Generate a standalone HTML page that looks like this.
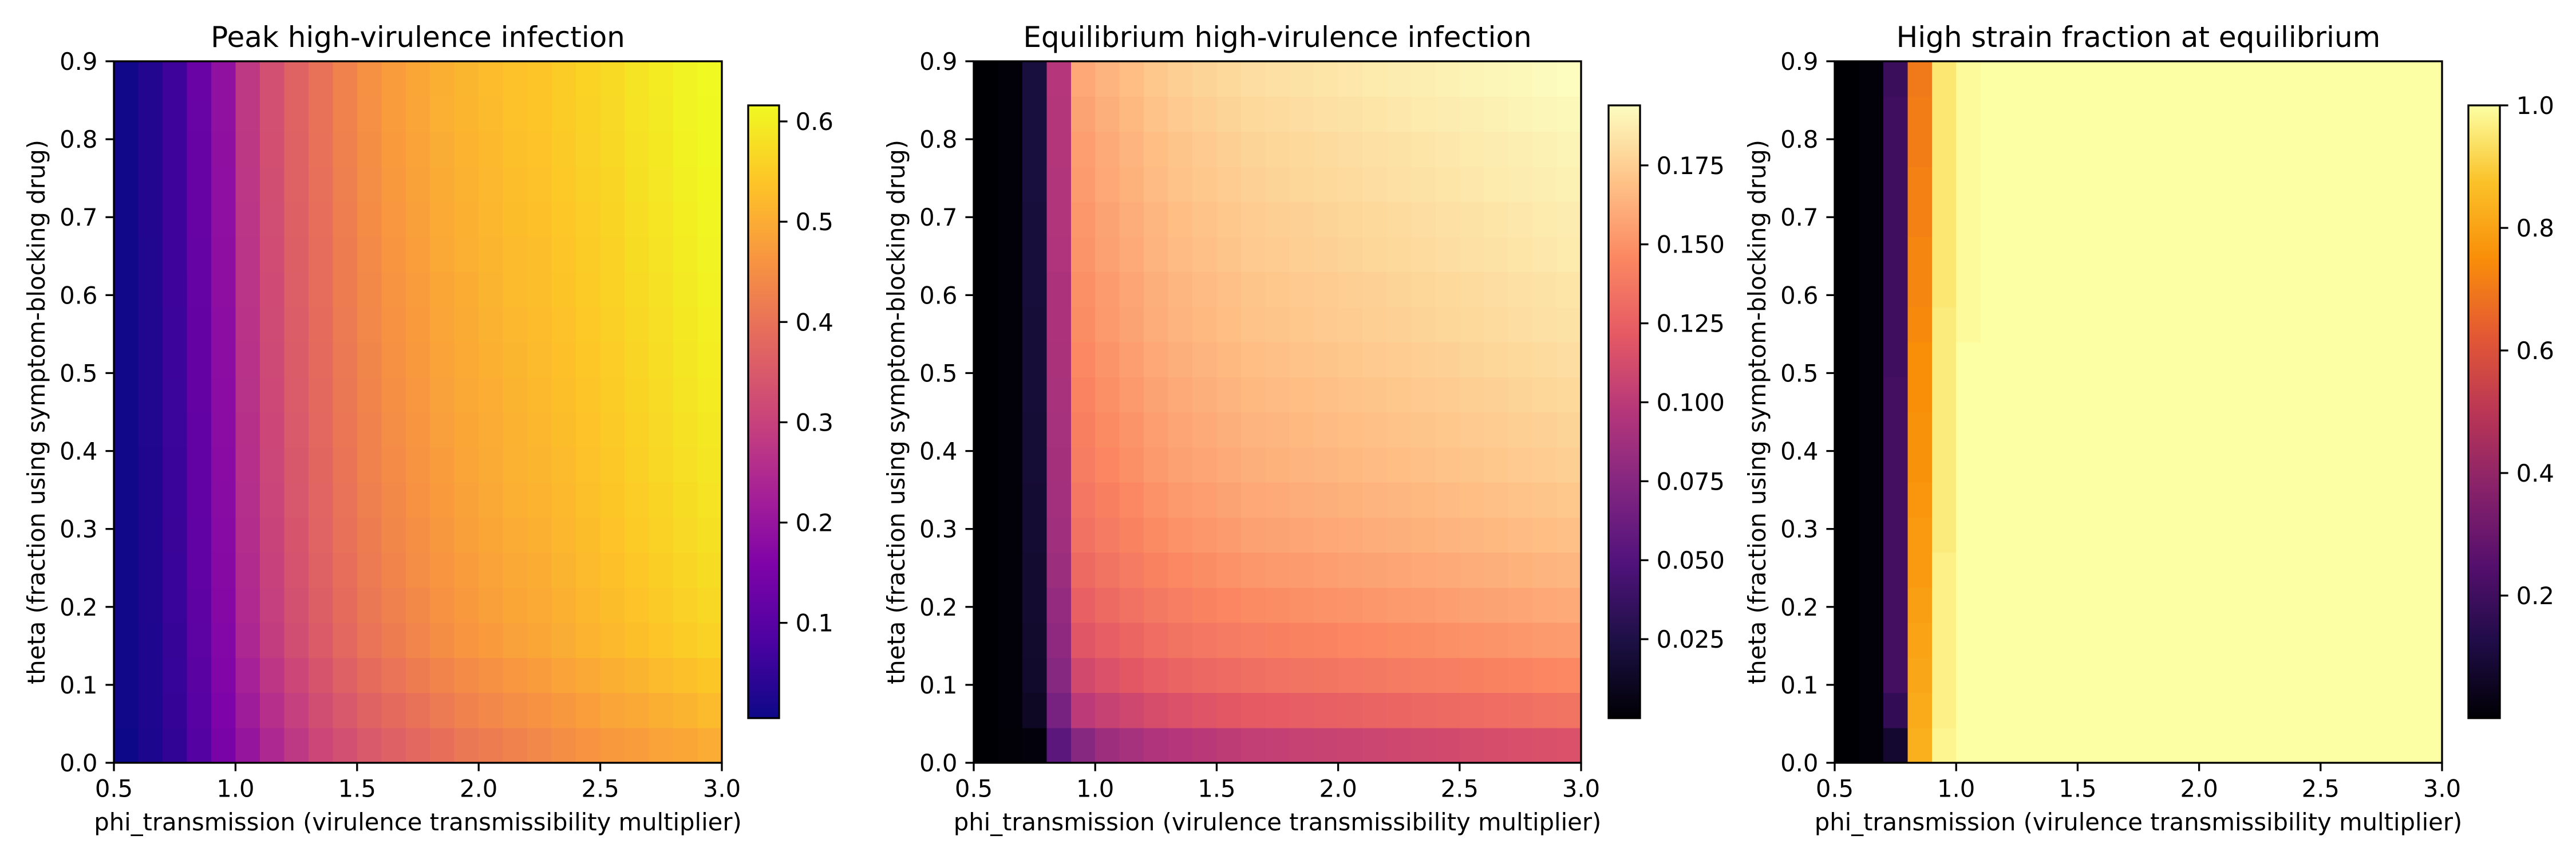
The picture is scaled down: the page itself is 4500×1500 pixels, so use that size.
<!DOCTYPE html>
<html><head><meta charset="utf-8"><style>
html,body{margin:0;padding:0;background:#fff}
svg{display:block}
text{font-family:"DejaVu Sans","Liberation Sans",sans-serif;fill:#000}
</style></head><body>
<svg id="fig" width="4500" height="1500" viewBox="0 0 4500 1500" xmlns="http://www.w3.org/2000/svg"></svg>
<script>
// ---------- data ----------
const phiEdges = [0.5,0.6,0.7,0.8,0.9,1.0,1.1,1.2,1.3,1.4,1.5,1.6,1.7,1.8,1.9,2.0,2.1,2.2,2.3,2.4,2.5,2.6,2.7,2.8,2.9,3.0];
const thetaMax = 0.9;
const xTicks = [0.5,1.0,1.5,2.0,2.5,3.0];
const xTickLabels = ["0.5","1.0","1.5","2.0","2.5","3.0"];
const yTicks = [0,0.1,0.2,0.3,0.4,0.5,0.6,0.7,0.8,0.9];
const yTickLabels = ["0.0","0.1","0.2","0.3","0.4","0.5","0.6","0.7","0.8","0.9"];
const titles = ["Peak high-virulence infection","Equilibrium high-virulence infection","High strain fraction at equilibrium"];
const cbTicks1 = [0.1,0.2,0.3,0.4,0.5,0.6];
const cbLabels1 = ["0.1","0.2","0.3","0.4","0.5","0.6"];
const cbTicks2 = [0.025,0.05,0.075,0.1,0.125,0.15,0.175];
const cbLabels2 = ["0.025","0.050","0.075","0.100","0.125","0.150","0.175"];
const cbTicks3 = [0.2,0.4,0.6,0.8,1.0];
const cbLabels3 = ["0.2","0.4","0.6","0.8","1.0"];

// rows from theta=0 (bottom) upward, 25 columns each
const peak = [
[.005,.025,.05,.095,.15,.20,.245,.28,.31,.33,.35,.365,.38,.395,.41,.42,.43,.44,.45,.46,.47,.475,.485,.49,.50],
[.01,.026,.053,.10,.158,.214,.26,.296,.326,.348,.369,.385,.40,.415,.429,.439,.449,.458,.468,.478,.488,.495,.505,.512,.522],
[.01,.027,.055,.105,.163,.228,.275,.311,.341,.365,.386,.403,.418,.433,.446,.456,.466,.475,.485,.495,.505,.513,.523,.531,.541],
[.01,.027,.056,.108,.167,.242,.289,.326,.356,.381,.403,.42,.435,.45,.463,.473,.483,.491,.501,.511,.521,.53,.54,.549,.559],
[.01,.028,.058,.11,.17,.247,.295,.332,.362,.387,.41,.427,.442,.457,.47,.48,.49,.497,.507,.517,.527,.537,.547,.557,.567],
[.01,.028,.058,.112,.172,.251,.299,.337,.367,.392,.415,.433,.448,.463,.475,.485,.495,.502,.512,.522,.532,.543,.553,.564,.574],
[.01,.028,.059,.113,.174,.255,.303,.341,.371,.397,.42,.438,.453,.468,.48,.49,.50,.507,.517,.527,.537,.548,.558,.569,.579],
[.01,.028,.06,.115,.176,.258,.306,.344,.374,.401,.424,.442,.457,.472,.484,.494,.504,.511,.521,.531,.541,.552,.562,.574,.584],
[.01,.028,.06,.116,.178,.26,.309,.347,.377,.404,.428,.446,.461,.476,.488,.498,.508,.514,.524,.534,.544,.556,.566,.578,.588],
[.01,.029,.061,.117,.179,.262,.311,.35,.38,.407,.43,.449,.464,.479,.49,.50,.51,.517,.527,.537,.547,.559,.569,.581,.591],
[.01,.029,.061,.118,.18,.265,.313,.352,.382,.41,.433,.452,.467,.482,.493,.503,.513,.52,.53,.54,.55,.562,.572,.585,.595],
[.01,.029,.062,.118,.181,.267,.316,.354,.384,.412,.436,.455,.47,.485,.496,.506,.516,.522,.532,.542,.552,.565,.575,.588,.598],
[.01,.029,.062,.119,.182,.269,.318,.357,.387,.415,.439,.458,.473,.488,.499,.509,.519,.525,.535,.545,.555,.568,.578,.591,.601],
[.01,.029,.063,.12,.184,.271,.32,.359,.389,.418,.442,.461,.476,.491,.502,.512,.522,.528,.538,.548,.558,.571,.581,.594,.604],
[.01,.029,.063,.121,.184,.272,.322,.361,.391,.419,.444,.463,.478,.493,.504,.514,.524,.529,.539,.549,.559,.573,.583,.597,.607],
[.01,.03,.063,.122,.186,.274,.324,.363,.393,.422,.447,.466,.481,.496,.507,.517,.527,.532,.542,.552,.562,.576,.586,.600,.610],
[.01,.03,.064,.123,.187,.276,.326,.366,.396,.425,.449,.469,.484,.499,.509,.519,.529,.535,.545,.555,.565,.579,.589,.603,.612],
[.01,.03,.064,.123,.188,.278,.328,.367,.397,.427,.451,.471,.486,.501,.511,.521,.531,.537,.547,.557,.567,.581,.591,.605,.614],
[.01,.03,.065,.124,.189,.28,.33,.37,.40,.429,.454,.474,.489,.504,.514,.524,.534,.539,.549,.559,.569,.584,.594,.607,.615],
[.01,.03,.065,.125,.19,.28,.33,.37,.40,.43,.455,.475,.49,.505,.515,.525,.535,.54,.55,.56,.57,.585,.595,.608,.616]
];
const equil = [
[0,.001,.003,.055,.075,.086,.090,.094,.097,.099,.101,.103,.104,.105,.106,.107,.108,.109,.110,.111,.112,.113,.114,.115,.116],
[0,.002,.012,.068,.100,.105,.109,.113,.116,.118,.120,.122,.123,.124,.125,.126,.127,.128,.129,.130,.131,.132,.133,.134,.135],
[0,.002,.015,.075,.111,.116,.120,.124,.127,.129,.131,.133,.134,.135,.136,.137,.138,.139,.140,.141,.142,.143,.144,.145,.146],
[0,.002,.016,.079,.119,.124,.128,.132,.135,.137,.139,.141,.142,.143,.144,.145,.146,.147,.148,.149,.150,.151,.152,.153,.154],
[0,.002,.017,.082,.125,.130,.134,.138,.141,.143,.145,.147,.148,.149,.150,.151,.152,.153,.154,.155,.156,.157,.158,.159,.160],
[0,.002,.017,.085,.130,.135,.139,.143,.146,.148,.150,.152,.153,.154,.155,.156,.157,.158,.159,.160,.161,.162,.163,.164,.165],
[0,.002,.018,.087,.134,.139,.143,.147,.150,.152,.154,.156,.157,.158,.159,.160,.161,.162,.163,.164,.165,.166,.167,.168,.169],
[0,.002,.018,.088,.137,.142,.146,.150,.153,.155,.157,.159,.160,.161,.162,.163,.164,.165,.166,.167,.168,.169,.170,.171,.172],
[0,.002,.019,.089,.140,.145,.149,.153,.156,.158,.160,.162,.163,.164,.165,.166,.167,.168,.169,.170,.171,.172,.173,.174,.175],
[0,.002,.019,.090,.142,.147,.151,.155,.158,.160,.162,.164,.165,.166,.167,.168,.169,.170,.171,.172,.173,.174,.175,.176,.177],
[0,.002,.020,.091,.144,.149,.153,.157,.160,.162,.164,.166,.167,.168,.169,.170,.171,.172,.173,.174,.175,.176,.177,.178,.179],
[0,.002,.020,.092,.146,.151,.155,.159,.162,.164,.166,.168,.169,.170,.171,.172,.173,.174,.175,.176,.177,.178,.179,.180,.181],
[0,.002,.020,.093,.148,.153,.157,.161,.164,.166,.168,.170,.171,.172,.173,.174,.175,.176,.177,.178,.179,.180,.181,.182,.183],
[0,.002,.021,.093,.149,.154,.158,.162,.165,.167,.169,.171,.172,.173,.174,.175,.176,.177,.178,.179,.180,.181,.182,.183,.184],
[0,.002,.021,.094,.151,.156,.160,.164,.167,.169,.171,.173,.174,.175,.176,.177,.178,.179,.180,.181,.182,.183,.184,.185,.186],
[0,.002,.021,.095,.152,.157,.161,.165,.168,.170,.172,.174,.175,.176,.177,.178,.179,.180,.181,.182,.183,.184,.185,.186,.187],
[0,.002,.022,.095,.154,.159,.163,.167,.170,.172,.174,.176,.177,.178,.179,.180,.181,.182,.183,.184,.185,.186,.187,.188,.189],
[0,.002,.022,.096,.155,.160,.164,.168,.171,.173,.175,.177,.178,.179,.180,.181,.182,.183,.184,.185,.186,.187,.188,.189,.190],
[0,.002,.022,.096,.157,.162,.166,.170,.173,.175,.177,.179,.180,.181,.182,.183,.184,.185,.186,.187,.188,.189,.190,.191,.192],
[0,.002,.022,.097,.159,.164,.168,.172,.175,.177,.179,.181,.182,.183,.184,.185,.186,.187,.188,.189,.190,.191,.192,.193,.194]
];
const frac = [
[0,.01,.08,.83,.98,1,1,1,1,1,1,1,1,1,1,1,1,1,1,1,1,1,1,1,1],
[0,.01,.17,.82,.97,1,1,1,1,1,1,1,1,1,1,1,1,1,1,1,1,1,1,1,1],
[0,.01,.21,.81,.97,1,1,1,1,1,1,1,1,1,1,1,1,1,1,1,1,1,1,1,1],
[0,.01,.21,.80,.97,1,1,1,1,1,1,1,1,1,1,1,1,1,1,1,1,1,1,1,1],
[0,.01,.21,.79,.97,1,1,1,1,1,1,1,1,1,1,1,1,1,1,1,1,1,1,1,1],
[0,.01,.21,.78,.97,1,1,1,1,1,1,1,1,1,1,1,1,1,1,1,1,1,1,1,1],
[0,.01,.21,.78,.96,1,1,1,1,1,1,1,1,1,1,1,1,1,1,1,1,1,1,1,1],
[0,.01,.21,.77,.96,1,1,1,1,1,1,1,1,1,1,1,1,1,1,1,1,1,1,1,1],
[0,.01,.21,.76,.96,1,1,1,1,1,1,1,1,1,1,1,1,1,1,1,1,1,1,1,1],
[0,.01,.21,.76,.96,1,1,1,1,1,1,1,1,1,1,1,1,1,1,1,1,1,1,1,1],
[0,.01,.21,.75,.96,1,1,1,1,1,1,1,1,1,1,1,1,1,1,1,1,1,1,1,1],
[0,.01,.20,.75,.96,1,1,1,1,1,1,1,1,1,1,1,1,1,1,1,1,1,1,1,1],
[0,.01,.20,.74,.96,.99,1,1,1,1,1,1,1,1,1,1,1,1,1,1,1,1,1,1,1],
[0,.01,.20,.73,.95,.99,1,1,1,1,1,1,1,1,1,1,1,1,1,1,1,1,1,1,1],
[0,.01,.20,.73,.95,.99,1,1,1,1,1,1,1,1,1,1,1,1,1,1,1,1,1,1,1],
[0,.01,.20,.72,.95,.99,1,1,1,1,1,1,1,1,1,1,1,1,1,1,1,1,1,1,1],
[0,.01,.20,.72,.95,.99,1,1,1,1,1,1,1,1,1,1,1,1,1,1,1,1,1,1,1],
[0,.01,.20,.71,.95,.99,1,1,1,1,1,1,1,1,1,1,1,1,1,1,1,1,1,1,1],
[0,.01,.20,.71,.95,.99,1,1,1,1,1,1,1,1,1,1,1,1,1,1,1,1,1,1,1],
[0,.01,.19,.70,.95,.99,1,1,1,1,1,1,1,1,1,1,1,1,1,1,1,1,1,1,1]
];

// ---------- colormaps ----------
const PLASMA=["#0d0887","#4c02a1","#7e03a8","#a92395","#cc4778","#e56b5d","#f89540","#fdc527","#f0f921"];
const MAGMA=["#000004","#1c1044","#4f127b","#812581","#b5367a","#e55964","#fb8761","#fec287","#fcfdbf"];
const INFERNO=["#000004","#1f0c48","#550f6d","#88226a","#ba3655","#e35933","#f98e09","#fac228","#fcffa4"];
function hex(h){return [parseInt(h.substr(1,2),16),parseInt(h.substr(3,2),16),parseInt(h.substr(5,2),16)];}
function cmap(stops,t){
  t=Math.max(0,Math.min(1,t));
  const n=stops.length-1, f=t*n, i=Math.min(n-1,Math.floor(f)), u=f-i;
  const a=hex(stops[i]), b=hex(stops[i+1]);
  return "rgb("+a.map((v,k)=>Math.round(v+(b[k]-v)*u)).join(",")+")";
}

const NS="http://www.w3.org/2000/svg";
const svg=document.getElementById("fig");
function el(tag,attrs,parent){const e=document.createElementNS(NS,tag);for(const k in attrs)e.setAttribute(k,attrs[k]);(parent||svg).appendChild(e);return e;}

const panels=[
 {data:peak,stops:PLASMA,ax0:199,ax1:1261,cb0:1307,cb1:1361,ticks:cbTicks1,labels:cbLabels1,name:"peak"},
 {data:equil,stops:MAGMA,ax0:1701,ax1:2762,cb0:2810,cb1:2865,ticks:cbTicks2,labels:cbLabels2,name:"equilibrium"},
 {data:frac,stops:INFERNO,ax0:3205,ax1:4266,cb0:4312,cb1:4367,ticks:cbTicks3,labels:cbLabels3,name:"high-fraction"}
];
const AY0=107, AY1=1332, CBY0=184, CBY1=1254;
const TL=14.6, LW=3.3, FS=41.7;

panels.forEach((p,pi)=>{
  const g=el("g",{});
  
  
  const xS=v=>p.ax0+(v-0.5)/(3.0-0.5)*(p.ax1-p.ax0);
  const yS=v=>AY1-(v/thetaMax)*(AY1-AY0);
  const rows=p.data.length;
  let vmin=Infinity,vmax=-Infinity;
  p.data.forEach(r=>r.forEach(v=>{vmin=Math.min(vmin,v);vmax=Math.max(vmax,v);}));
  const hm=el("g",{"shape-rendering":"crispEdges"},g);
  
  
  p.data.forEach((row,ri)=>{
    const y0=yS(ri*thetaMax/rows), y1=yS((ri+1)*thetaMax/rows);
    row.forEach((v,ci)=>{
      const x0=xS(phiEdges[ci]), x1=xS(phiEdges[ci+1]);
      const r=el("rect",{x:x0,y:y1,width:x1-x0+0.6,height:y0-y1+0.6,fill:cmap(p.stops,(v-vmin)/(vmax-vmin))},hm);
      
      
    });
  });
  const fr=el("rect",{x:p.ax0,y:AY0,width:p.ax1-p.ax0,height:AY1-AY0,fill:"none",stroke:"#000","stroke-width":LW},g);
  
  
  xTicks.forEach((t,i)=>{
    const x=xS(t);
    el("line",{x1:x,x2:x,y1:AY1,y2:AY1+TL,stroke:"#000","stroke-width":LW},g);
    const tx=el("text",{x:x,y:AY1+TL+14+31,"font-size":FS,"text-anchor":"middle"},g);
    tx.textContent=xTickLabels[i];
    
    
  });
  yTicks.forEach((t,i)=>{
    const y=yS(t);
    el("line",{x1:p.ax0-TL,x2:p.ax0,y1:y,y2:y,stroke:"#000","stroke-width":LW},g);
    const ty=el("text",{x:p.ax0-TL-14,y:y+15,"font-size":FS,"text-anchor":"end"},g);
    ty.textContent=yTickLabels[i];
    
    
  });
  const xl=el("text",{x:(p.ax0+p.ax1)/2,y:1450,"font-size":FS,"text-anchor":"middle"},g);
  xl.textContent="phi_transmission (virulence transmissibility multiplier)";
  
  
  const yl=el("text",{x:0,y:0,"font-size":FS,"text-anchor":"middle",transform:`translate(${p.ax0-121},${(AY0+AY1)/2}) rotate(-90)`},g);
  yl.textContent="theta (fraction using symptom-blocking drug)";
  
  
  const tt=el("text",{x:(p.ax0+p.ax1)/2,y:82,"font-size":50,"text-anchor":"middle"},g);
  tt.textContent=titles[pi];
  
  
  const gid="grad"+pi;
  const defs=el("defs",{},g);
  const lg=el("linearGradient",{id:gid,x1:0,y1:1,x2:0,y2:0},defs);
  for(let k=0;k<=32;k++){el("stop",{offset:k/32,"stop-color":cmap(p.stops,k/32)},lg);}
  const cb=el("rect",{x:p.cb0,y:CBY0,width:p.cb1-p.cb0,height:CBY1-CBY0,fill:`url(#${gid})`,stroke:"#000","stroke-width":LW},g);
  
  
  const cS=v=>CBY1-(v-vmin)/(vmax-vmin)*(CBY1-CBY0);
  p.ticks.forEach((t,i)=>{
    const y=cS(t);
    el("line",{x1:p.cb1,x2:p.cb1+TL,y1:y,y2:y,stroke:"#000","stroke-width":LW},g);
    const ct=el("text",{x:p.cb1+TL+14,y:y+15,"font-size":FS},g);
    ct.textContent=p.labels[i];
    
    
  });
});
</script>
</body></html>
